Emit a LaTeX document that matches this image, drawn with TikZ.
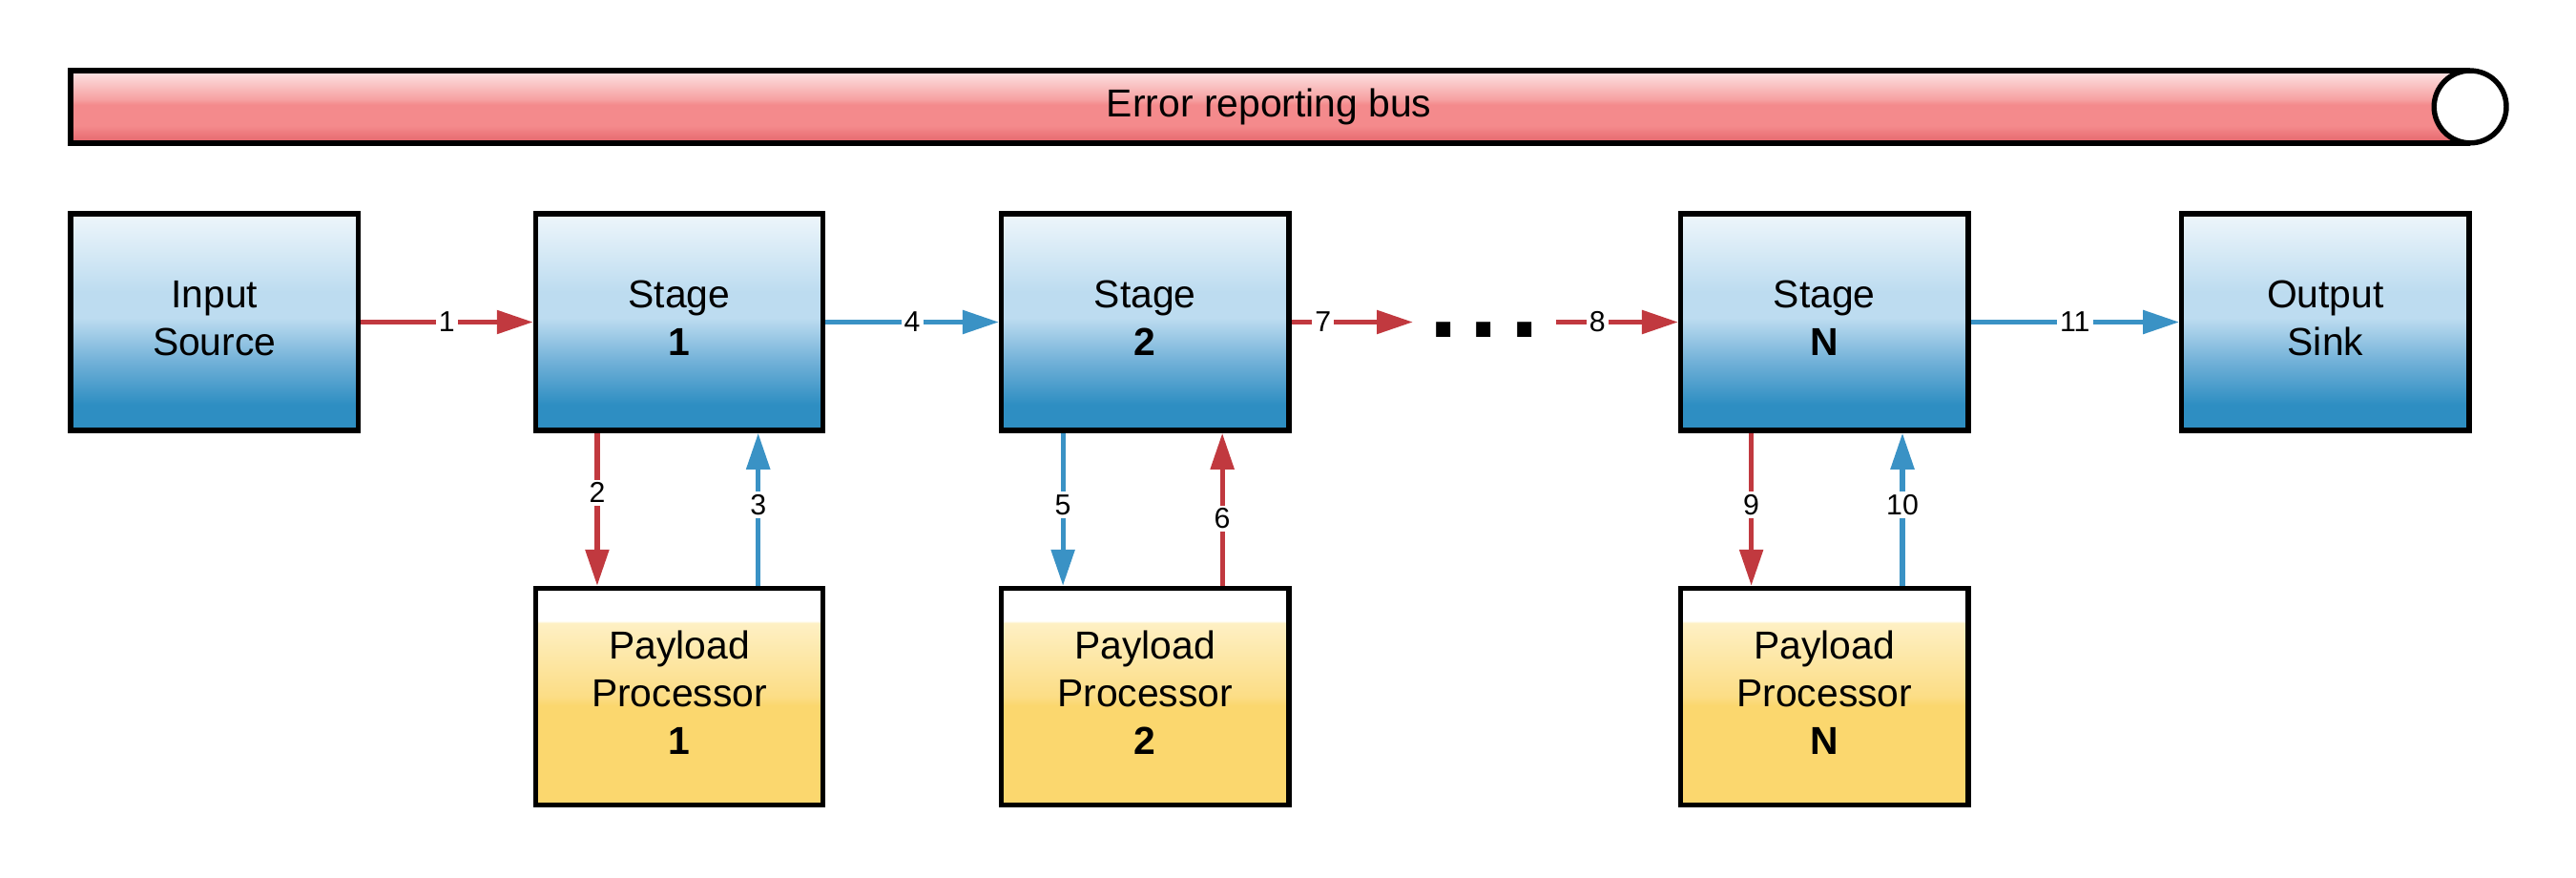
\documentclass[tikz,border=0pt]{standalone}
\usepackage{fontspec}
\setmainfont{Liberation Sans}
\usetikzlibrary{arrows.meta}

\definecolor{vermell}{HTML}{C1393F}
\definecolor{blau}{HTML}{3A92C5}
\definecolor{blauPal}{HTML}{EEF6FB}
\definecolor{blauClar}{HTML}{BDDCF0}
\definecolor{blauMig}{HTML}{72B1D8}
\definecolor{blauFosc}{HTML}{2E8EC2}
\definecolor{grocPal}{HTML}{FEF0C4}
\definecolor{grocMig}{HTML}{FCDD85}
\definecolor{groc}{HTML}{FBD76E}
\definecolor{busPal}{HTML}{FDE5E5}
\definecolor{busClar}{HTML}{F6A0A1}
\definecolor{busMig}{HTML}{F48A8C}
\definecolor{busFosc}{HTML}{E4656B}

\pgfdeclareverticalshading{etapa}{100bp}{color(0bp)=(blauFosc); color(31bp)=(blauFosc); color(41bp)=(blauMig); color(51bp)=(blauClar); color(57bp)=(blauClar); color(75bp)=(blauPal); color(100bp)=(blauPal)}
\pgfdeclareverticalshading{processador}{100bp}{color(0bp)=(groc); color(48bp)=(groc); color(50bp)=(grocMig); color(67bp)=(grocPal); color(67.5bp)=(white); color(100bp)=(white)}
\pgfdeclareverticalshading{busErr}{100bp}{color(0bp)=(busFosc); color(25bp)=(busFosc); color(37bp)=(busMig); color(51.5bp)=(busMig); color(55bp)=(busClar); color(75bp)=(busPal); color(100bp)=(busPal)}

\begin{document}
\begin{tikzpicture}[
    caixa/.style={draw, line width=1.8pt, minimum width=3.5cm, minimum height=2.64cm,
                  align=center, inner sep=0pt, text depth=0.1cm,
                  font=\fontsize{13.5}{16.5}\selectfont},
    etapabox/.style={caixa, shade, shading=etapa},
    procbox/.style={caixa, shade, shading=processador},
    fv/.style={line width=1.7pt, draw=vermell, -{Triangle[length=0.44cm, width=0.28cm]}},
    fb/.style={line width=1.7pt, draw=blau, -{Triangle[length=0.44cm, width=0.28cm]}},
    num/.style={fill=white, inner sep=1pt, text=black, font=\fontsize{10}{12}\selectfont}]
        \useasboundingbox (0,0) rectangle (31.36,10.68);

        % Bus d'errors (a dalt)
        \node[draw, line width=1.8pt, shade, shading=busErr, minimum width=29.18cm,
              minimum height=0.88cm, inner sep=0pt, font=\fontsize{13.5}{16.5}\selectfont]
              (bus) at (15.45,9.38) {Error reporting bus};
        \node[draw, line width=1.8pt, circle, fill=white, minimum size=0.88cm, inner sep=0pt]
              (tapa) at (bus.east) {};

        % Fila d'etapes
        \node[etapabox] (in) at (2.61,6.76) {Input\\Source};
        \node[etapabox] (e1) at (8.27,6.76) {Stage\\\textbf{1}};
        \node[etapabox] (e2) at (13.94,6.76) {Stage\\\textbf{2}};
        \node[etapabox] (eN) at (22.21,6.76) {Stage\\\textbf{N}};
        \node[etapabox] (out) at (28.31,6.76) {Output\\Sink};

        % Processadors (a baix)
        \node[procbox] (pp1) at (8.27,2.2) {Payload\\Processor\\\textbf{1}};
        \node[procbox] (pp2) at (13.94,2.2) {Payload\\Processor\\\textbf{2}};
        \node[procbox] (ppN) at (22.21,2.2) {Payload\\Processor\\\textbf{N}};

        % Punts suspensius
        \coordinate (p7) at (17.2,6.76);
        \coordinate (p8) at (18.94,6.76);
        \node[anchor=base, inner sep=0pt, font=\fontsize{35}{35}\selectfont\bfseries]
              (punts) at (18.07,6.57) {.\hspace{4.2pt}.\hspace{4.2pt}.};

        % Fletxes horitzontals
        \draw[fv] (in) -- (e1) node[num, midway] {1};
        \draw[fb] (e1) -- (e2) node[num, midway] {4};
        \draw[fv] (e2) -- (p7) node[num, pos=0.26] {7};
        \draw[fv] (p8) -- (eN) node[num, pos=0.34] {8};
        \draw[fb] (eN) -- (out) node[num, midway] {11};

        % Fletxes verticals
        \draw[fv] ([xshift=-1cm]e1.south) -- ([xshift=-1cm]pp1.north) node[num, pos=0.39] {2};
        \draw[fb] ([xshift=0.96cm]pp1.north) -- ([xshift=0.96cm]e1.south) node[num, pos=0.53] {3};
        \draw[fb] ([xshift=-1cm]e2.south) -- ([xshift=-1cm]pp2.north) node[num, pos=0.47] {5};
        \draw[fv] ([xshift=0.94cm]pp2.north) -- ([xshift=0.94cm]e2.south) node[num, pos=0.44] {6};
        \draw[fv] ([xshift=-0.89cm]eN.south) -- ([xshift=-0.89cm]ppN.north) node[num, pos=0.47] {9};
        \draw[fb] ([xshift=0.95cm]ppN.north) -- ([xshift=0.95cm]eN.south) node[num, pos=0.53] {10};
\end{tikzpicture}
\end{document}
